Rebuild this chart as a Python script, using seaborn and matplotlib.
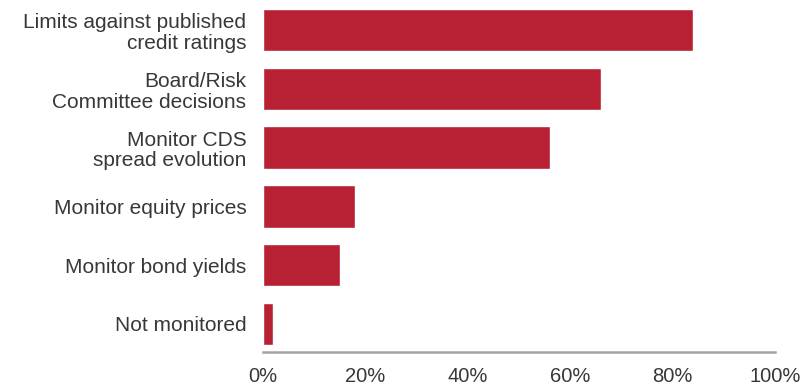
import matplotlib
matplotlib.use("Agg")
import matplotlib.pyplot as plt
import seaborn as sns
import pandas as pd
from matplotlib.ticker import FuncFormatter

categories = [
    "Limits against published\ncredit ratings",
    "Board/Risk\nCommittee decisions",
    "Monitor CDS\nspread evolution",
    "Monitor equity prices",
    "Monitor bond yields",
    "Not monitored",
]
shares = [84, 66, 56, 18, 15, 2]
x_ticks = [0, 20, 40, 60, 80, 100]

df = pd.DataFrame({"method": categories, "share": shares})

sns.set_theme(style="white")
plt.rcParams["font.family"] = ["Liberation Sans", "DejaVu Sans"]

fig = plt.figure(figsize=(8.03, 3.88), dpi=100)
ax = fig.add_axes([263 / 803, 1 - 352 / 388, (775 - 263) / 803, 350 / 388])

sns.barplot(data=df, x="share", y="method", color="#B82034", width=0.72,
            saturation=1, ax=ax, orient="h")

ax.set_xlim(0, 100)
ax.set_ylim(5.48, -0.48)
ax.set_xticks(x_ticks)
ax.xaxis.set_major_formatter(FuncFormatter(lambda v, _: f"{v:.0f}%"))
ax.set_xlabel("")
ax.set_ylabel("")

for side in ["top", "right", "left"]:
    ax.spines[side].set_visible(False)
ax.spines["bottom"].set_color("#A9A29C")
ax.spines["bottom"].set_linewidth(1.8)

ax.tick_params(axis="x", length=0, pad=11, labelsize=14.5, labelcolor="#383838")
ax.tick_params(axis="y", length=0, pad=12, labelsize=15, labelcolor="#383838")
for lbl in ax.get_yticklabels():
    lbl.set_horizontalalignment("right")
    lbl.set_multialignment("right")
    lbl.set_linespacing(1.12)

fig.savefig("out.png", dpi=100)
